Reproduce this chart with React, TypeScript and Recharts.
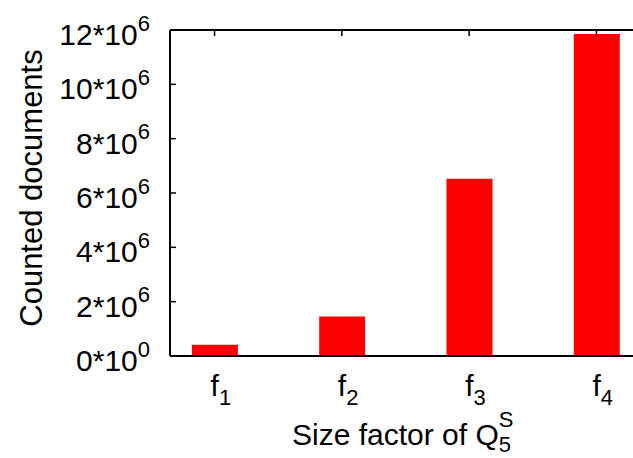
import React from 'react';
import { BarChart, Bar, XAxis, YAxis } from 'recharts';

// Category positions and their subscript labels (f₁ … f₄)
const categoryIndex = [0, 1, 2, 3];
const categoryBase = 'f';
const categorySub = ['1', '2', '3', '4'];

// Counted documents per size factor
const countedDocuments = [410000, 1450000, 6520000, 11850000];

// Y tick values and their "m*10^e" labels
const yTickValues = [0, 2e6, 4e6, 6e6, 8e6, 10e6, 12e6];
const yTickMantissa = ['0*10', '2*10', '4*10', '6*10', '8*10', '10*10', '12*10'];
const yTickExponent = ['0', '6', '6', '6', '6', '6', '6'];

const data = categoryIndex.map((x, i) => ({ x, count: countedDocuments[i] }));

const FONT = '"Liberation Sans", Arial, Helvetica, sans-serif';
const MAIN = 30;
const SMALL = 22;

const YTick = (props: any) => {
  const { x, y, index } = props;
  return (
    <g>
      <line x1={x} y1={y} x2={x + 6} y2={y} stroke="#000" strokeWidth={1.5} />
      <text
        x={x - 20}
        y={y + 15}
        textAnchor="end"
        fontFamily={FONT}
        fontSize={MAIN}
        fill="#000"
      >
        <tspan>{yTickMantissa[index]}</tspan>
        <tspan fontSize={SMALL} dy={-14.5}>
          {yTickExponent[index]}
        </tspan>
      </text>
    </g>
  );
};

const BottomTick = (props: any) => {
  const { x, y, index } = props;
  return (
    <text x={x - 4} y={y + 40} fontFamily={FONT} fontSize={MAIN} fill="#000">
      <tspan>{categoryBase}</tspan>
      <tspan fontSize={SMALL} dy={8.6}>
        {categorySub[index]}
      </tspan>
    </text>
  );
};

const TopTick = (props: any) => {
  const { x, y } = props;
  return <line x1={x} y1={y} x2={x} y2={y + 6} stroke="#000" strokeWidth={1.5} />;
};

const XTitle = () => (
  <text x={292} y={445} fontFamily={FONT} fontSize={MAIN} fill="#000">
    <tspan>Size factor of Q</tspan>
    <tspan fontSize={SMALL} dy={-18}>
      S
    </tspan>
    <tspan fontSize={SMALL} dx={-14.7} dy={25}>
      5
    </tspan>
  </text>
);

const YTitle = () => (
  <text
    x={42}
    y={188}
    transform="rotate(-90, 42, 188)"
    textAnchor="middle"
    fontFamily={FONT}
    fontSize={31}
    fill="#000"
  >
    Counted documents
  </text>
);

export default function App() {
  return (
    <div
      style={{
        position: 'fixed',
        left: 0,
        top: 0,
        width: 633,
        height: 458,
        overflow: 'hidden',
        background: '#fff',
      }}
    >
      <BarChart
        width={660}
        height={458}
        data={data}
        margin={{ top: 0, right: 19, bottom: 0, left: 0 }}
      >
        <XAxis
          xAxisId="top"
          orientation="top"
          type="number"
          dataKey="x"
          domain={[-0.35, 3.35]}
          ticks={categoryIndex}
          allowDataOverflow
          height={30}
          tickSize={0}
          tickMargin={0}
          tickLine={false}
          tick={<TopTick />}
          axisLine={{ stroke: '#000', strokeWidth: 2 }}
        />
        <XAxis
          xAxisId="bottom"
          orientation="bottom"
          type="number"
          dataKey="x"
          domain={[-0.35, 3.35]}
          ticks={categoryIndex}
          allowDataOverflow
          height={102}
          tickSize={0}
          tickMargin={0}
          tickLine={false}
          tick={<BottomTick />}
          axisLine={{ stroke: '#000', strokeWidth: 2 }}
          label={<XTitle />}
        />
        <YAxis
          type="number"
          domain={[0, 12e6]}
          ticks={yTickValues}
          width={170}
          tickSize={0}
          tickMargin={0}
          tickLine={false}
          tick={<YTick />}
          axisLine={{ stroke: '#000', strokeWidth: 2 }}
          label={<YTitle />}
        />
        <Bar
          xAxisId="bottom"
          dataKey="count"
          fill="#ff0000"
          barSize={46}
          isAnimationActive={false}
        />
      </BarChart>
    </div>
  );
}
